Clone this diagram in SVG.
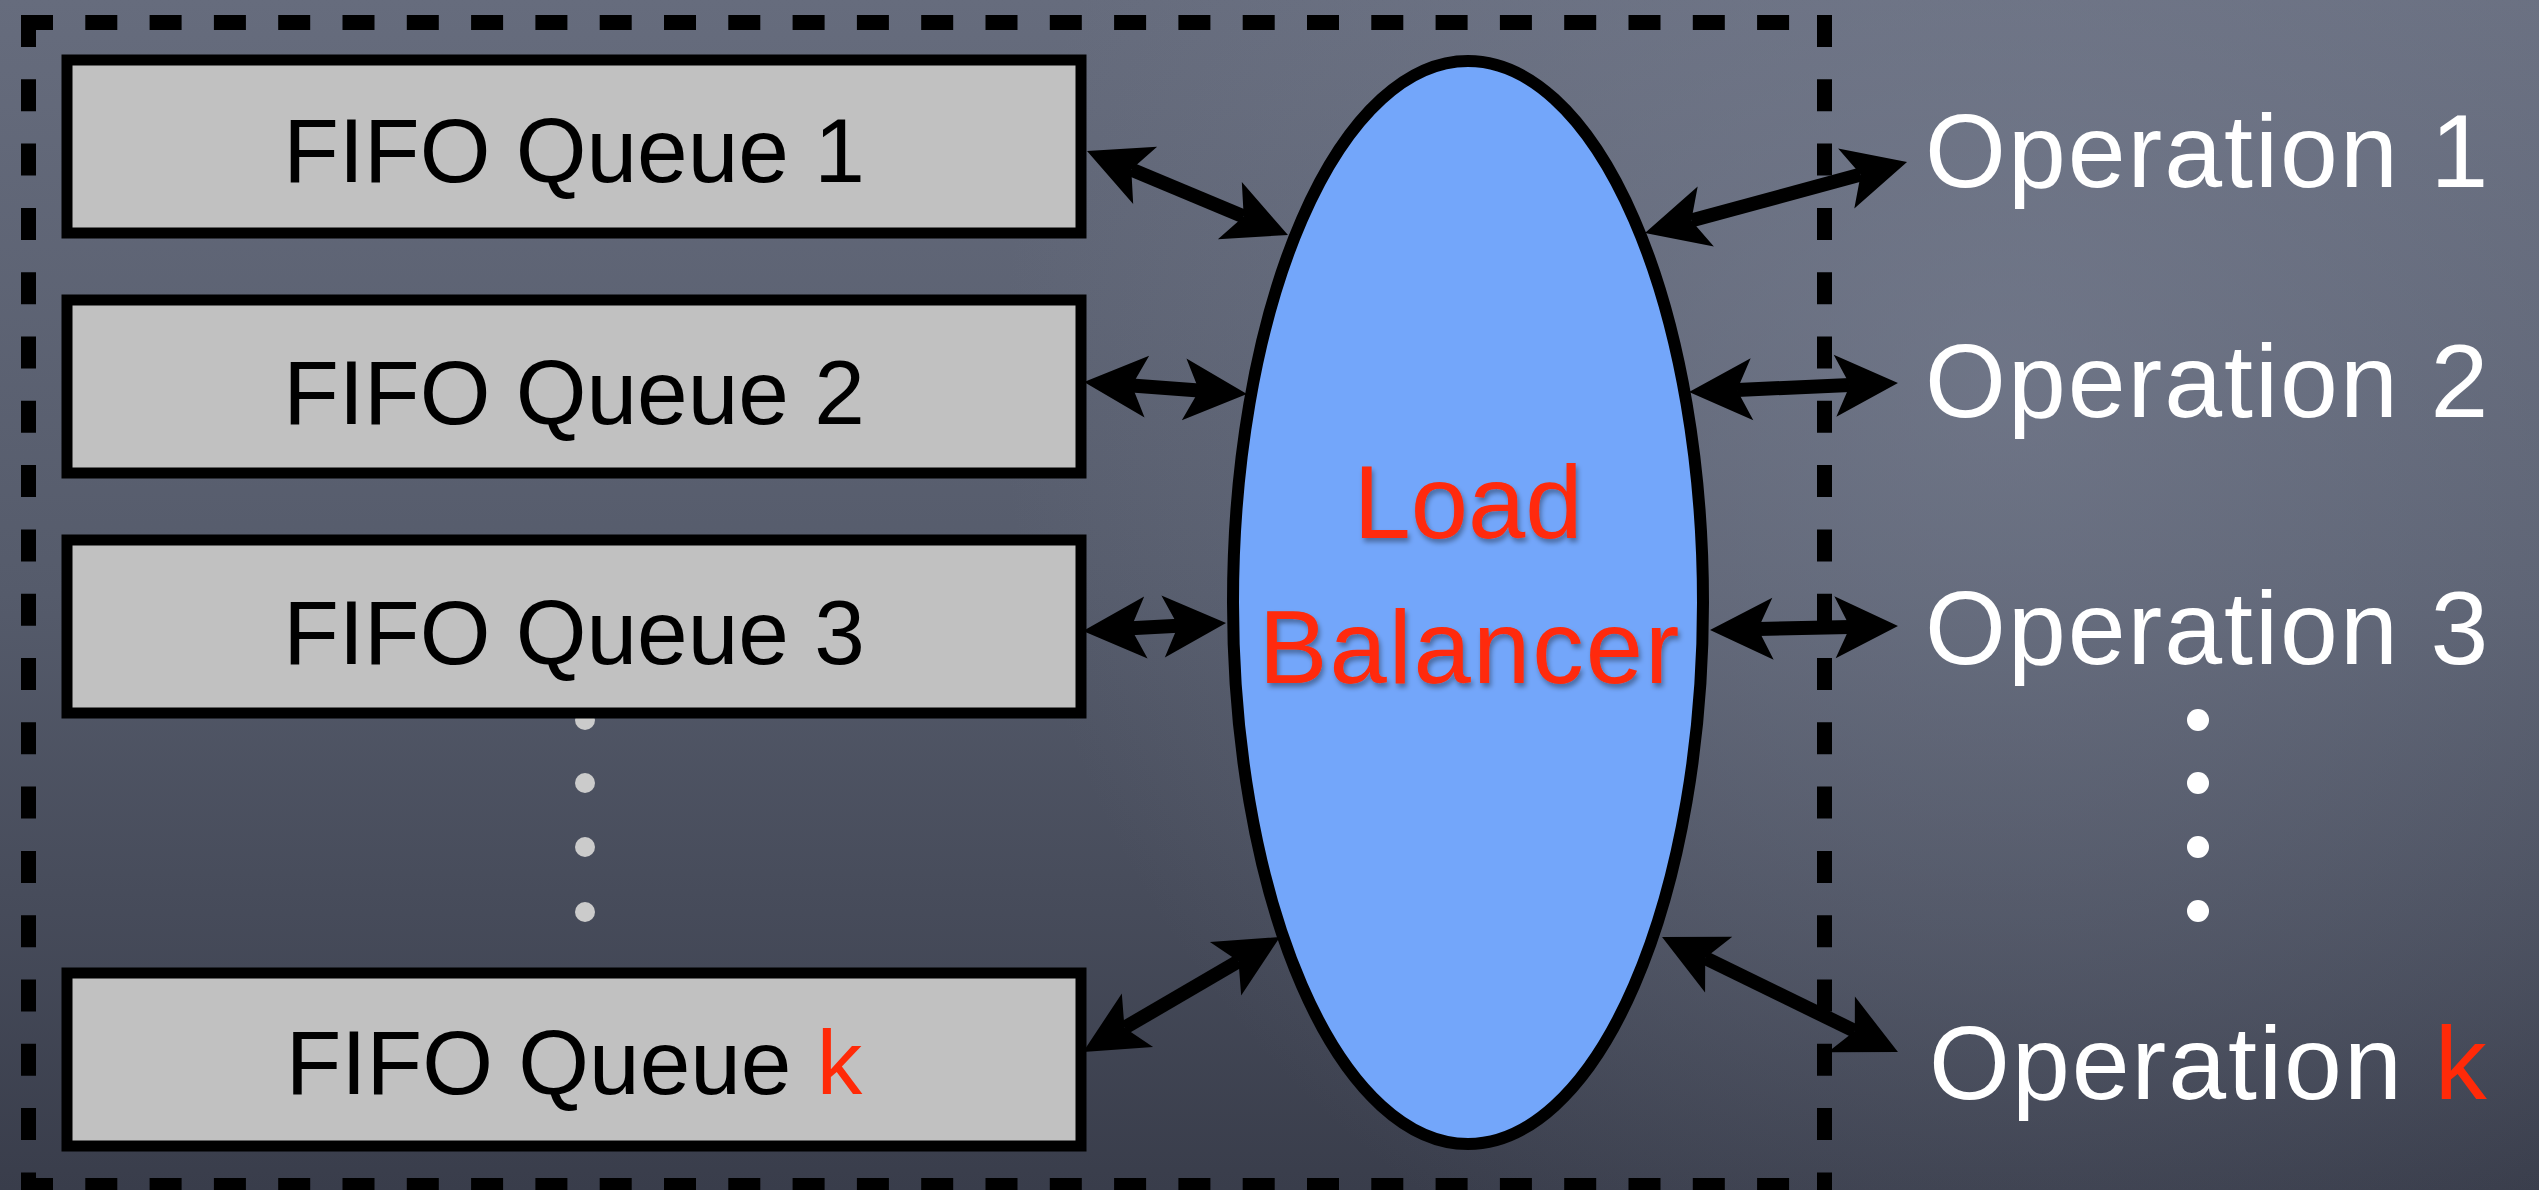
<svg xmlns="http://www.w3.org/2000/svg" width="2539" height="1190" viewBox="0 0 2539 1190">
  <defs>
    <linearGradient id="bg" x1="0" y1="0" x2="0" y2="1">
      <stop offset="0" stop-color="#666c7d"/>
      <stop offset="0.5" stop-color="#555b6b"/>
      <stop offset="1" stop-color="#393d4b"/>
    </linearGradient>
    <radialGradient id="glow" cx="2000" cy="380" r="1000" gradientUnits="userSpaceOnUse">
      <stop offset="0" stop-color="#7e8598" stop-opacity="0.55"/>
      <stop offset="1" stop-color="#7e8598" stop-opacity="0"/>
    </radialGradient>
    <filter id="shadow" x="-10%" y="-10%" width="120%" height="130%">
      <feDropShadow dx="2" dy="4" stdDeviation="2.5" flood-color="#000" flood-opacity="0.35"/>
    </filter>
    <marker id="ah" markerUnits="userSpaceOnUse" viewBox="-70 -40 80 80" markerWidth="80" markerHeight="80" refX="-48" refY="0" orient="auto-start-reverse" overflow="visible">
      <path d="M0,0 L-63,-31 L-48,0 L-63,31 Z" fill="#000"/>
    </marker>
    <style>
      .frame { stroke: #000; stroke-width: 15; fill: none; stroke-dasharray: 32 32.3; }
      .queue { fill: #c1c1c1; stroke: #000; stroke-width: 11; }
      .qtext { font-family: 'Chalkboard', 'Comic Sans MS', 'Liberation Sans', sans-serif; font-size: 91px; fill: #000; text-anchor: middle; }
      .optext { font-family: 'Chalkboard', 'Comic Sans MS', 'Liberation Sans', sans-serif; font-size: 104px; fill: #fff; letter-spacing: 2px; }
      .red { fill: #ff2a08; }
      .lbtext { font-family: 'Chalkboard', 'Comic Sans MS', 'Liberation Sans', sans-serif; font-size: 103px; fill: #ff2a08; text-anchor: middle; }
      .conn { stroke: #000; stroke-width: 14; fill: none; marker-start: url(#ah); marker-end: url(#ah); }
      .ldot { fill: #cbcbcb; }
      .rdot { fill: #ffffff; }
    </style>
  </defs>

  <g id="background">
    <rect x="0" y="0" width="2539" height="1190" fill="url(#bg)"/>
    <rect x="0" y="0" width="2539" height="1190" fill="url(#glow)"/>
  </g>

  <g id="boundary">
    <line class="frame" x1="21" y1="22.5" x2="1832" y2="22.5"/>
    <line class="frame" x1="21" y1="1185.5" x2="1832" y2="1185.5"/>
    <line class="frame" x1="28.5" y1="15" x2="28.5" y2="1193"/>
    <line class="frame" x1="1824.5" y1="15" x2="1824.5" y2="1193"/>
  </g>

  <g id="left-ellipsis">
    <circle class="ldot" cx="585" cy="720" r="10"/>
    <circle class="ldot" cx="585" cy="783" r="10"/>
    <circle class="ldot" cx="585" cy="847" r="10"/>
    <circle class="ldot" cx="585" cy="912" r="10"/>
  </g>

  <g id="queue1">
    <rect class="queue" x="67" y="60" width="1014" height="173"/>
    <text class="qtext" x="574" y="182">FIFO Queue 1</text>
  </g>
  <g id="queue2">
    <rect class="queue" x="67" y="300" width="1014" height="173"/>
    <text class="qtext" x="574" y="424">FIFO Queue 2</text>
  </g>
  <g id="queue3">
    <rect class="queue" x="67" y="540" width="1014" height="173"/>
    <text class="qtext" x="574" y="664">FIFO Queue 3</text>
  </g>
  <g id="queuek">
    <rect class="queue" x="67" y="973" width="1014" height="173"/>
    <text class="qtext" x="574" y="1094">FIFO Queue <tspan class="red">k</tspan></text>
  </g>

  <g id="load-balancer">
    <ellipse cx="1468" cy="602.5" rx="235" ry="541.5" fill="#73a6fa" stroke="#000" stroke-width="12"/>
    <g filter="url(#shadow)">
      <text class="lbtext" x="1468" y="538">Load</text>
      <text class="lbtext" x="1470" y="683" letter-spacing="2">Balancer</text>
    </g>
  </g>

  <g id="operation1">
    <text class="optext" x="1925" y="187">Operation 1</text>
  </g>
  <g id="operation2">
    <text class="optext" x="1925" y="417">Operation 2</text>
  </g>
  <g id="operation3">
    <text class="optext" x="1925" y="664">Operation 3</text>
  </g>
  <g id="operationk">
    <text class="optext" x="1929" y="1099">Operation <tspan class="red">k</tspan></text>
  </g>

  <g id="right-ellipsis">
    <circle class="rdot" cx="2198" cy="720" r="11"/>
    <circle class="rdot" cx="2198" cy="783" r="11"/>
    <circle class="rdot" cx="2198" cy="847" r="11"/>
    <circle class="rdot" cx="2198" cy="911" r="11"/>
  </g>

  <g id="connectors">
    <line class="conn" x1="1131.3" y1="169.5" x2="1243.7" y2="216.5"/>
    <line class="conn" x1="1131.9" y1="385.5" x2="1199.1" y2="390.5"/>
    <line class="conn" x1="1130.9" y1="628.3" x2="1178.1" y2="625.7"/>
    <line class="conn" x1="1124.5" y1="1027.8" x2="1238.5" y2="961.2"/>
    <line class="conn" x1="1691.3" y1="220.4" x2="1860.7" y2="174.6"/>
    <line class="conn" x1="1737" y1="389.9" x2="1850" y2="385.1"/>
    <line class="conn" x1="1758" y1="629" x2="1850" y2="627"/>
    <line class="conn" x1="1705.2" y1="958" x2="1854.8" y2="1031"/>
  </g>
</svg>
